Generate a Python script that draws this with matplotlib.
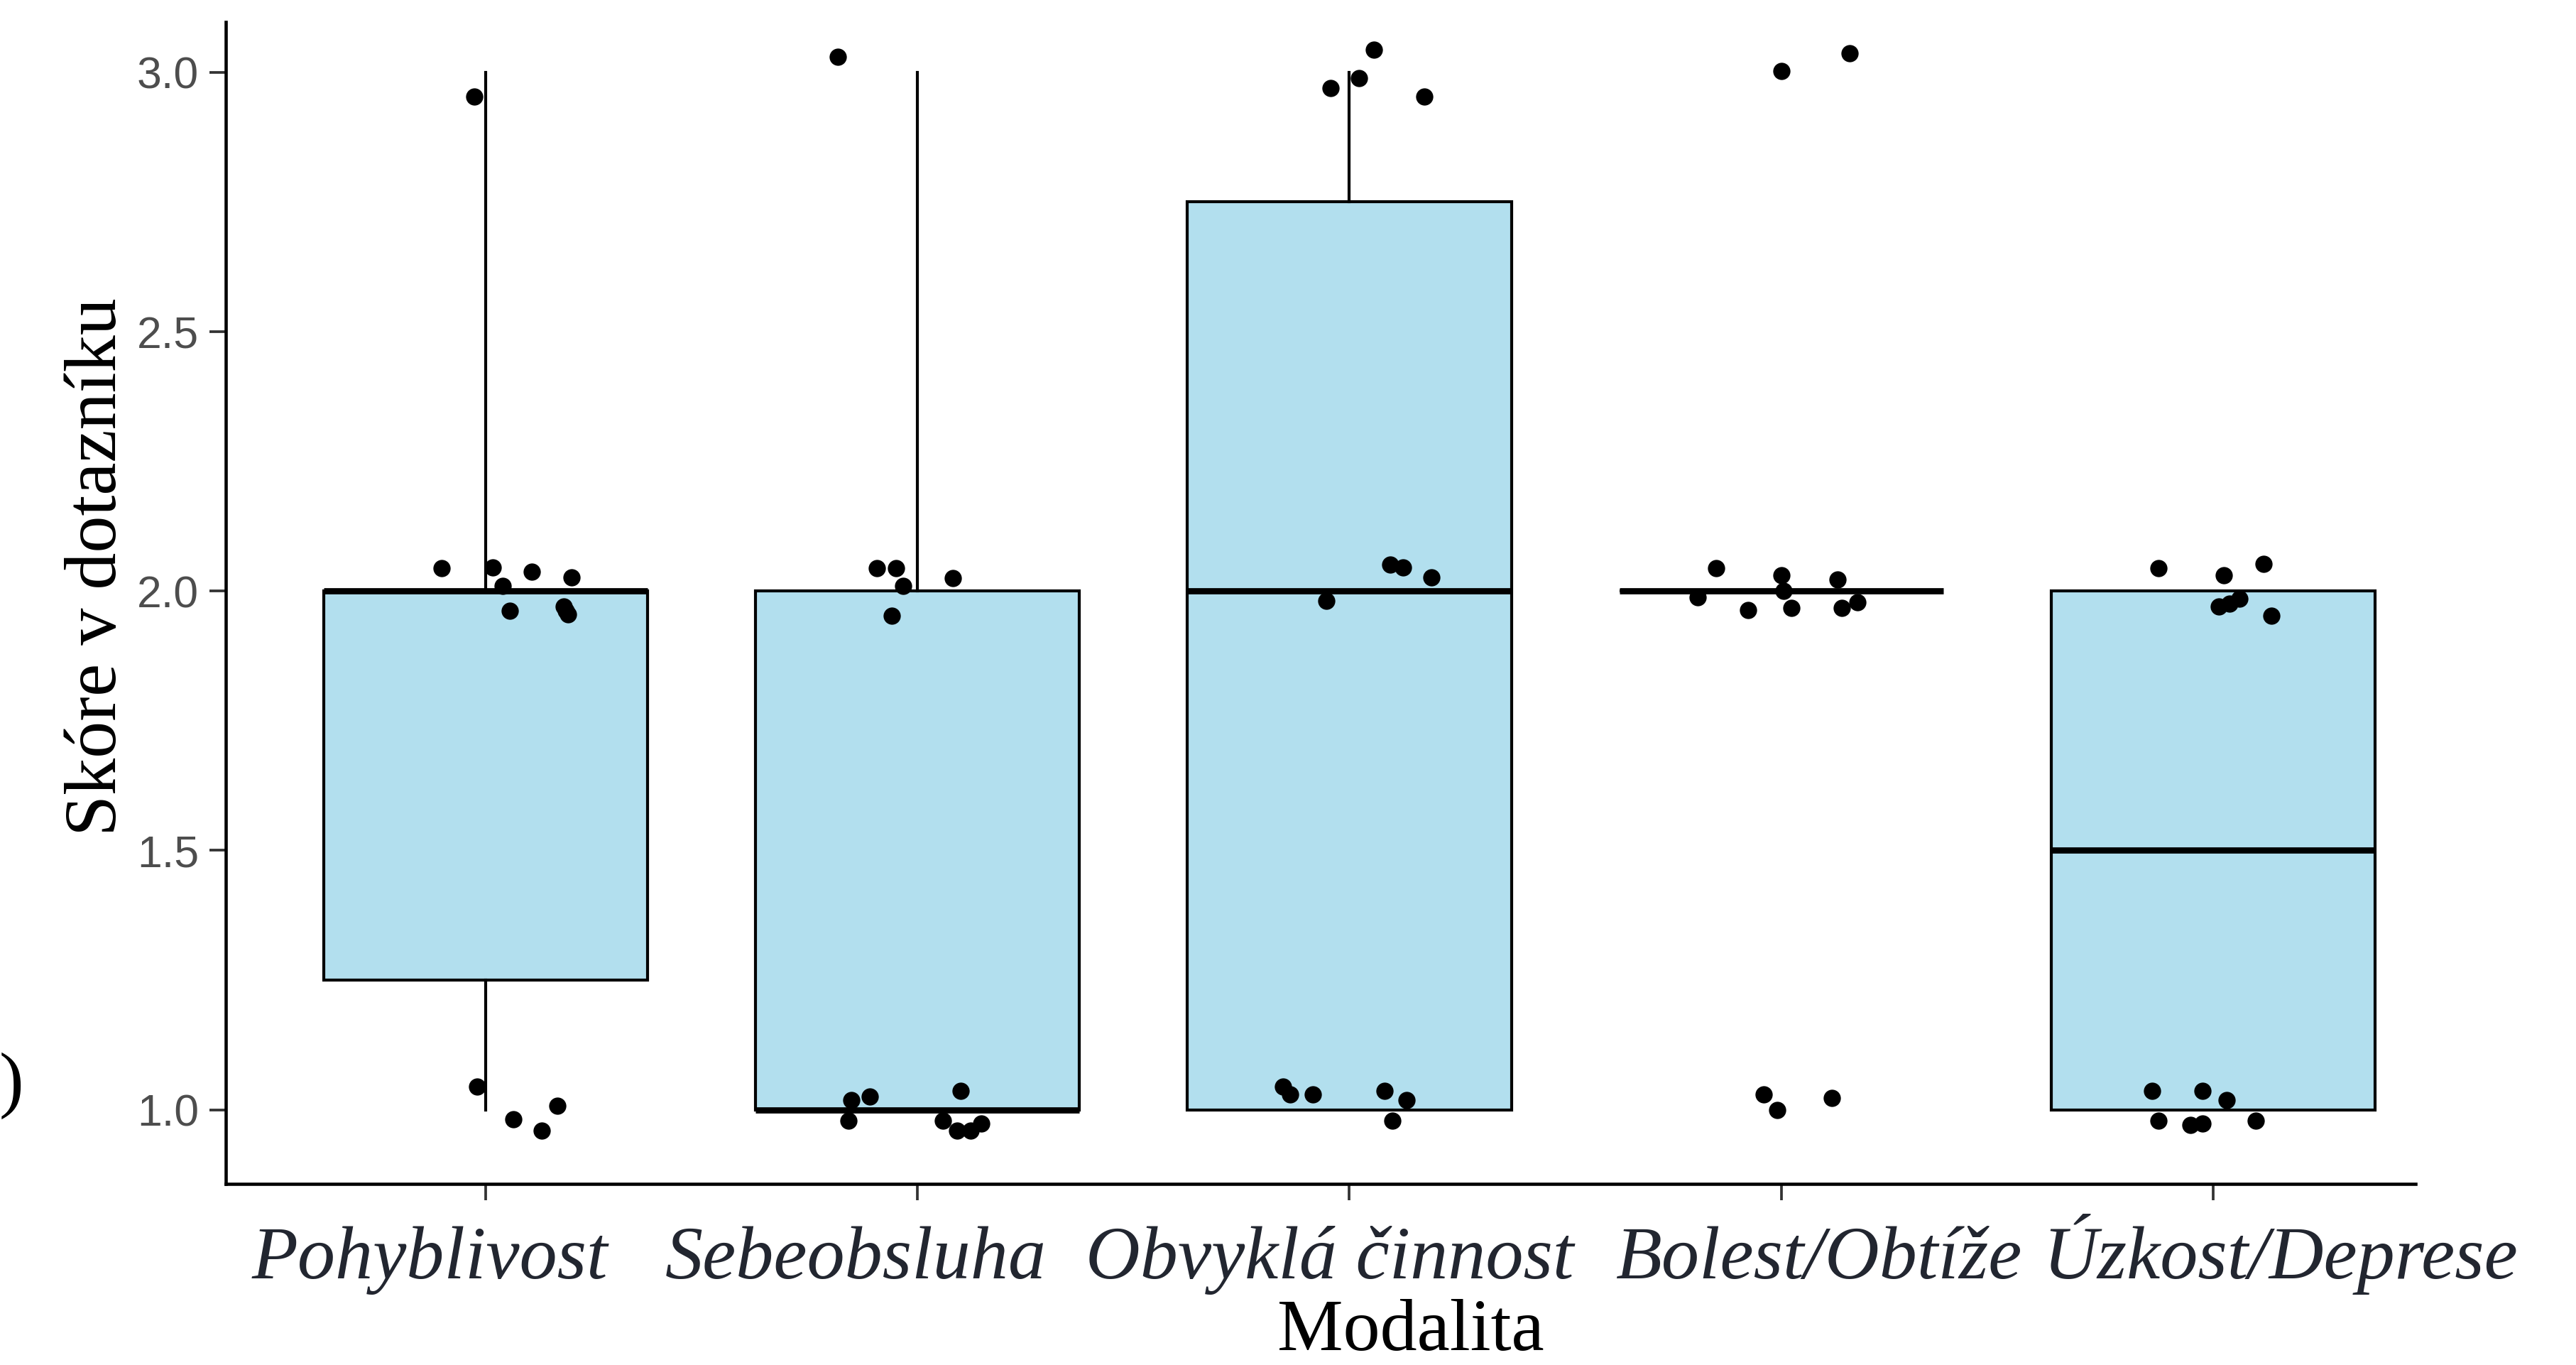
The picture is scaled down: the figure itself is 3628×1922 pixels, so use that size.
import matplotlib
matplotlib.use('Agg')
import matplotlib.pyplot as plt
import matplotlib.transforms as mtransforms

# categories and box statistics
categories = ["Pohyblivost", "Sebeobsluha", "Obvyklá činnost", "Bolest/Obtíže", "Úzkost/Deprese"]
q1 = [1.25, 1.0, 1.0, 2.0, 1.0]
medians = [2.0, 1.0, 2.0, 2.0, 1.5]
q3 = [2.0, 2.0, 2.75, 2.0, 2.0]
whisker_lo = [1.0, 1.0, 1.0, 2.0, 1.0]
whisker_hi = [3.0, 3.0, 3.0, 2.0, 2.0]

# jittered points: horizontal offset from the category, and jittered score
pohyblivost_dx = [-0.027, -0.102, 0.016, 0.040, 0.107, 0.199, 0.056, 0.180, 0.190, 0.185, -0.020, 0.064, 0.130, 0.166]
pohyblivost_y = [2.953, 2.044, 2.045, 2.010, 2.037, 2.026, 1.962, 1.970, 1.955, 1.962, 1.044, 0.981, 0.960, 1.008]

sebeobsluha_dx = [-0.184, -0.094, -0.049, -0.033, 0.082, -0.059, -0.154, -0.110, -0.160, 0.100, 0.058, 0.092, 0.123, 0.148]
sebeobsluha_y = [3.030, 2.044, 2.044, 2.010, 2.025, 1.953, 1.018, 1.026, 0.979, 1.037, 0.979, 0.960, 0.960, 0.974]

cinnost_dx = [0.057, 0.023, -0.043, 0.174, 0.095, 0.125, 0.190, -0.053, -0.153, -0.138, -0.084, 0.082, 0.133, 0.099]
cinnost_y = [3.044, 2.989, 2.970, 2.953, 2.051, 2.045, 2.026, 1.981, 1.044, 1.030, 1.030, 1.037, 1.018, 0.979]

bolest_dx = [0.158, 0.000, -0.151, 0.000, 0.131, -0.194, 0.005, -0.077, 0.023, 0.140, 0.176, -0.041, -0.010, 0.117]
bolest_y = [3.037, 3.003, 2.044, 2.030, 2.022, 1.988, 2.000, 1.963, 1.967, 1.967, 1.978, 1.030, 1.000, 1.023]

uzkost_dx = [-0.127, 0.025, 0.117, 0.013, 0.038, 0.061, 0.135, -0.141, -0.025, 0.031, -0.127, -0.053, -0.025, 0.099]
uzkost_y = [2.044, 2.030, 2.052, 1.970, 1.975, 1.985, 1.952, 1.037, 1.037, 1.018, 0.979, 0.970, 0.974, 0.979]

points_dx = [pohyblivost_dx, sebeobsluha_dx, cinnost_dx, bolest_dx, uzkost_dx]
points_y = [pohyblivost_y, sebeobsluha_y, cinnost_y, bolest_y, uzkost_y]

# label shifts seen in the reference (pixels)
label_shift_px = [-79, -87, -28, 53, 95]

DPI = 300
fig = plt.figure(figsize=(3628 / DPI, 1922 / DPI), dpi=DPI)
ax = fig.add_axes([318 / 3628, 1 - 1667 / 1922, (3402 - 318) / 3628, (1667 - 31) / 1922])

positions = list(range(1, len(categories) + 1))
stats = []
for i in range(len(categories)):
    stats.append({'med': medians[i], 'q1': q1[i], 'q3': q3[i],
                  'whislo': whisker_lo[i], 'whishi': whisker_hi[i], 'fliers': []})

ax.bxp(stats, positions=positions, widths=0.75, patch_artist=True,
       showcaps=False, showfliers=False,
       boxprops=dict(facecolor='#B2DFEE', edgecolor='black', linewidth=1.0),
       medianprops=dict(color='black', linewidth=2.1, solid_capstyle='butt'),
       whiskerprops=dict(color='black', linewidth=1.0))

# jittered points on top
for i, pos in enumerate(positions):
    xs = [pos + d for d in points_dx[i]]
    ax.scatter(xs, points_y[i], s=34, color='black', zorder=5, linewidths=0)

ax.set_xlim(0.398, 5.469)
ax.set_ylim(0.857, 3.097)
ax.set_yticks([1.0, 1.5, 2.0, 2.5, 3.0])
ax.set_yticklabels(['1.0', '1.5', '2.0', '2.5', '3.0'])
ax.set_xticks(positions)
ax.set_xticklabels(categories)

# classic look: only left and bottom lines
ax.spines['top'].set_visible(False)
ax.spines['right'].set_visible(False)
for s in ['left', 'bottom']:
    ax.spines[s].set_linewidth(1.1)
    ax.spines[s].set_color('black')

ax.tick_params(axis='both', color='#333333', length=5.5, width=0.9)
ax.tick_params(axis='y', labelsize=15, labelcolor='#4D4D4D', pad=3.6)
ax.tick_params(axis='x', pad=26.4)
for lab in ax.get_yticklabels():
    lab.set_fontfamily('Liberation Sans')

for lab, shift in zip(ax.get_xticklabels(), label_shift_px):
    lab.set_fontfamily('Liberation Serif')
    lab.set_fontstyle('italic')
    lab.set_fontsize(25.5)
    lab.set_color('#222630')
    lab.set_verticalalignment('baseline')
    lab.set_transform(lab.get_transform() +
                      mtransforms.ScaledTranslation(shift / DPI, 0, fig.dpi_scale_trans))

ax.set_xlabel('Modalita', fontfamily='Liberation Serif', fontsize=25)
ax.xaxis.set_label_coords(0.541, -0.099)
ax.set_ylabel('Skóre v dotazníku', fontfamily='Liberation Serif', fontsize=25)
ax.yaxis.set_label_coords(-0.043, 0.531)

# cut-off bracket at the left edge
fig.text(0.0091, 0.2045, ')', ha='right', va='center', fontsize=25,
         fontfamily='Liberation Serif')

fig.savefig('out.png', dpi=DPI)
